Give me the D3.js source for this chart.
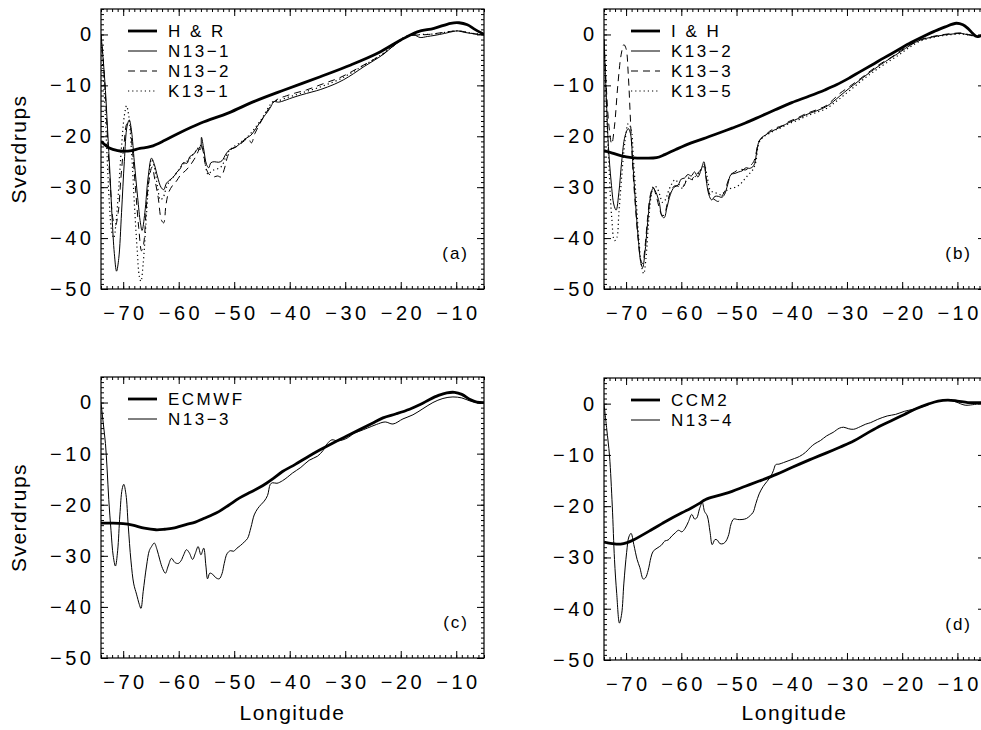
<!DOCTYPE html>
<html><head><meta charset="utf-8">
<script src="https://cdn.jsdelivr.net/npm/d3@7"></script>
<style>
html,body{margin:0;padding:0;background:#fff;}
svg{display:block;}
text{font-family:"Liberation Sans",Arial,sans-serif;fill:#000;}
</style></head><body>
<div id="chart"></div>
<script>
// ---------------- DATA (longitude, Sverdrups) ----------------
const xTicks = [-70,-60,-50,-40,-30,-20,-10];
const yTicks = [0,-10,-20,-30,-40,-50];
const xDomain = [-74,-5];
const yDomain = [-50,5];

// Panel (a)
const HR = [[-74,-21],[-72.5,-22.3],[-71,-22.8],[-70,-22.9],[-68.5,-22.8],[-67,-22.4],[-65,-22.0],[-62.5,-20.8],[-60,-19.4],[-56,-17.4],[-51,-15.4],[-46.5,-13.2],[-41,-10.9],[-34.5,-8.3],[-29,-6.0],[-24,-3.6],[-20,-1.1],[-17,0.5],[-14,1.2],[-11,2.2],[-9.5,2.3],[-8,1.9],[-6.8,1.1],[-5,0]];
const N13_1 = [[-74,0],[-73.6,-5],[-73.2,-11],[-72.8,-19],[-72.4,-27],[-72,-36],[-71.6,-43],[-71.2,-46.5],[-70.8,-44],[-70.3,-35],[-69.8,-25],[-69.3,-18],[-68.9,-16.8],[-68.5,-19],[-68,-25],[-67.4,-32],[-66.9,-37],[-66.6,-38.5],[-66.1,-35],[-65.5,-28],[-64.9,-24.3],[-64.4,-25.5],[-63.8,-28],[-63.2,-30],[-62.7,-30.5],[-62.2,-29.2],[-61.5,-28.5],[-60.8,-27.8],[-60.3,-27],[-59.8,-26.5],[-59.2,-25.2],[-58.5,-25.3],[-58,-24],[-57.3,-23.5],[-56.6,-22.5],[-56.1,-22.6],[-55.9,-20.2],[-55.5,-22.5],[-55,-25.5],[-54.6,-26.2],[-54.2,-25.2],[-53.6,-25],[-52.8,-25.1],[-52.2,-24.8],[-51.5,-23.5],[-50.8,-22.6],[-50,-22.3],[-49,-21.5],[-48,-20.5],[-47,-19.8],[-46.3,-18.8],[-45.5,-17.5],[-44.7,-16.2],[-44,-15.2],[-43.3,-14],[-42.9,-13.2],[-42,-13.3],[-41,-13],[-40,-12.6],[-38,-11.9],[-36,-11.3],[-34.4,-10.8],[-32,-9.8],[-30.3,-8.9],[-28.5,-7.7],[-26.6,-6.3],[-24.8,-5.1],[-23,-3.8],[-21.5,-2.4],[-20,-1.2],[-18.8,-0.4],[-17.6,-0.1],[-16.5,-0.6],[-15.2,-0.4],[-14,-0.2],[-12.1,0.2],[-10.5,0.6],[-9.7,0.7],[-8.5,0.4],[-7.3,0.2],[-6,0],[-5,0]];
const N13_2 = [[-74,0],[-73.6,-5],[-73.2,-12],[-72.8,-21],[-72.3,-30],[-71.8,-36.5],[-71.4,-37.5],[-70.9,-35],[-70.4,-28],[-69.8,-21],[-69.3,-17.5],[-68.9,-17.5],[-68.4,-22],[-67.8,-30],[-67.2,-38],[-66.7,-42.5],[-66.3,-41],[-65.9,-35],[-65.4,-29],[-64.8,-26],[-64.3,-28.5],[-63.7,-32],[-63.1,-36.5],[-62.7,-37],[-62.3,-33.5],[-61.8,-31],[-61,-29.5],[-60.4,-28.8],[-59.6,-27.5],[-58.8,-26.8],[-58,-25.8],[-57.2,-24.5],[-56.5,-23],[-56,-21.5],[-55.6,-23],[-55,-26.5],[-54.4,-27.6],[-53.8,-28],[-53,-27.8],[-52.4,-28],[-51.8,-26.5],[-51.2,-24],[-50.5,-22.5],[-49.5,-22],[-48.5,-21.2],[-47.5,-20.4],[-46.9,-21.3],[-46.3,-19.5],[-45.5,-17.8],[-44.7,-16.2],[-43.8,-14.6],[-43,-13.4],[-42,-12.6],[-41,-12.2],[-39,-11.5],[-37,-10.9],[-35,-10.1],[-33,-9.3],[-31,-8.5],[-29,-7.4],[-27,-6.2],[-25,-5.0],[-23,-3.7],[-21,-2],[-19.5,-0.8],[-18,-0.2],[-16.5,-0.1],[-15,0],[-13,0.3],[-11,0.6],[-9.5,0.7],[-8,0.4],[-6.5,0.1],[-5,0]];
const K13_1 = [[-74,0],[-73.7,-6],[-73.3,-14],[-72.9,-24],[-72.5,-33],[-72.1,-38.5],[-71.7,-40],[-71.3,-37],[-70.8,-30],[-70.3,-22],[-69.8,-16],[-69.4,-14],[-69,-16],[-68.5,-23],[-68,-33],[-67.5,-42],[-67.1,-47.5],[-66.8,-48.5],[-66.4,-45],[-65.9,-37],[-65.4,-29],[-64.9,-24.5],[-64.4,-26],[-63.8,-30],[-63.3,-32.5],[-62.8,-32],[-62.2,-30],[-61.5,-28.6],[-60.8,-27.8],[-60,-26.6],[-59.2,-25.5],[-58.4,-24.8],[-57.6,-23.8],[-56.8,-22.8],[-56.2,-21.8],[-55.8,-22],[-55.3,-25],[-54.7,-27.5],[-54.2,-27],[-53.5,-26.5],[-52.8,-26.3],[-52.2,-25.8],[-51.5,-24],[-50.8,-22.7],[-50,-22],[-49,-21.3],[-48,-20.5],[-47,-19.4],[-46,-18],[-45,-16.5],[-44.2,-15],[-43.5,-13.8],[-42.8,-13],[-42,-13],[-41,-12.6],[-39,-11.9],[-37,-11.2],[-35,-10.5],[-33,-9.7],[-31,-8.8],[-29,-7.6],[-27,-6.3],[-25,-5],[-23,-3.6],[-21,-1.9],[-19.5,-0.6],[-18,-0.1],[-16,0],[-14,0.1],[-12,0.4],[-10,0.7],[-8.5,0.5],[-7,0.2],[-5,0]];

// Panel (b)
const IH = [[-74,-22.8],[-72.5,-23.3],[-71,-23.8],[-69,-24.2],[-66.5,-24.3],[-64.5,-24.2],[-63,-23.6],[-61,-22.6],[-58.2,-21.3],[-55.5,-20.3],[-53.3,-19.4],[-50.8,-18.4],[-48.4,-17.4],[-45.5,-16],[-43,-14.8],[-40,-13.4],[-36.8,-12.1],[-34,-10.9],[-31.9,-9.9],[-29.5,-8.5],[-27.6,-7.3],[-25.5,-6],[-23.3,-4.6],[-21,-3.2],[-18.4,-1.6],[-16.2,-0.4],[-14.2,0.6],[-12.2,1.5],[-10.2,2.2],[-9,1.9],[-8.1,1.2],[-7.2,0.2],[-6.5,-0.4],[-5.8,-0.3],[-5,-0.2]];
const K13_2 = [[-74,-1],[-73.6,-12],[-73.2,-22],[-72.7,-29],[-72.2,-33.5],[-71.8,-34.5],[-71.3,-31],[-70.8,-25],[-70.2,-20],[-69.6,-18.5],[-69.2,-19.5],[-68.8,-25],[-68.3,-33],[-67.8,-40],[-67.3,-45],[-67,-45.8],[-66.6,-43],[-66.1,-37],[-65.6,-32],[-65.1,-30.2],[-64.6,-31],[-64,-33],[-63.5,-35.7],[-63.1,-36],[-62.6,-34],[-62,-31.5],[-61.3,-30],[-60.6,-29.6],[-60,-28.4],[-59.4,-28.2],[-58.8,-27.5],[-58.2,-27.8],[-57.6,-27],[-57,-28],[-56.4,-26.5],[-55.9,-25],[-55.5,-28.5],[-55,-31.5],[-54.5,-32.5],[-53.9,-31.8],[-53.3,-31.8],[-52.7,-32],[-52.2,-31.5],[-51.6,-29.5],[-51,-27.5],[-50.3,-27.3],[-49.6,-27],[-49,-26.8],[-48.3,-26.2],[-47.6,-26.3],[-46.9,-25.8],[-46.4,-23.5],[-46,-21.2],[-45.4,-20.2],[-44.8,-19.8],[-44,-19.2],[-43,-18.7],[-41.7,-18],[-40.5,-17.3],[-39,-16.6],[-37.5,-15.8],[-35.5,-15],[-33.8,-14.2],[-32.5,-13.2],[-31.3,-12.1],[-29.5,-10.5],[-27.6,-8.9],[-25.8,-7.4],[-24,-6],[-22,-4.6],[-20.3,-3.4],[-18.5,-2.1],[-16.7,-1.1],[-14.5,-0.5],[-12.4,-0.1],[-10.8,0.1],[-9.3,0.2],[-8,-0.1],[-6.8,-0.3],[-5,-0.3]];
const K13_3 = [[-74,-1],[-73.6,-10],[-73.1,-18],[-72.6,-21.5],[-72.1,-18],[-71.5,-10],[-70.9,-4],[-70.4,-2],[-70,-2.8],[-69.6,-8],[-69.2,-17],[-68.8,-26],[-68.3,-34],[-67.8,-40.5],[-67.3,-44.5],[-67,-45],[-66.6,-42],[-66.1,-36],[-65.6,-31.5],[-65.1,-30],[-64.6,-31.5],[-64,-34],[-63.5,-35.5],[-63.1,-35.5],[-62.6,-33.5],[-62,-31],[-61.3,-29.8],[-60.6,-29.8],[-60,-30.2],[-59.4,-29.5],[-58.8,-28],[-58.2,-28.5],[-57.6,-27.8],[-57,-27.2],[-56.4,-26.5],[-55.9,-25.5],[-55.5,-28],[-55,-31],[-54.5,-32],[-53.9,-32.5],[-53.3,-32.8],[-52.7,-31.8],[-52.2,-31],[-51.6,-29],[-51,-27.5],[-50.3,-27],[-49.6,-26.5],[-49,-26.5],[-48.3,-26.6],[-47.6,-25.9],[-46.9,-25],[-46.4,-23],[-46,-21],[-45.4,-20.4],[-44.8,-19.8],[-44,-19],[-43,-18.4],[-41.7,-17.9],[-40.5,-17.1],[-39,-16.4],[-37.5,-15.6],[-35.5,-14.8],[-33.8,-14],[-32.5,-12.8],[-31.3,-11.6],[-29.5,-10.2],[-27.6,-8.7],[-25.8,-7.2],[-24,-5.8],[-22,-4.5],[-20.3,-3.2],[-18.5,-2],[-16.7,-1],[-14.5,-0.4],[-12.4,0],[-10.8,0.2],[-9.3,0.3],[-8,0],[-6.8,-0.2],[-5,-0.3]];
const K13_5 = [[-74,-1],[-73.6,-13],[-73.1,-26],[-72.6,-36],[-72.1,-40.5],[-71.7,-40],[-71.3,-35],[-70.8,-28],[-70.2,-21],[-69.6,-17.5],[-69.1,-18.5],[-68.7,-24],[-68.2,-32],[-67.7,-40],[-67.2,-45.5],[-66.8,-47],[-66.4,-44],[-66,-38],[-65.5,-32],[-65,-29.8],[-64.5,-30],[-63.9,-31.5],[-63.4,-33],[-62.9,-32.5],[-62.4,-31],[-61.8,-29.5],[-61.1,-28.5],[-60.4,-29.5],[-59.8,-30.2],[-59.2,-28.8],[-58.6,-28.2],[-58,-28.5],[-57.4,-27.8],[-56.8,-27.2],[-56.2,-26.2],[-55.8,-25.8],[-55.3,-28],[-54.8,-30.5],[-54.2,-31],[-53.5,-31.2],[-52.8,-31.5],[-52.2,-31],[-51.6,-30.5],[-51,-30.2],[-50.2,-30],[-49.4,-29.5],[-48.6,-28.5],[-47.8,-27.5],[-47,-26.5],[-46.5,-25],[-46.1,-22],[-45.6,-20.6],[-45,-20],[-44,-19.4],[-43,-18.8],[-41.7,-18.2],[-40.5,-17.5],[-39,-16.9],[-37.5,-16.1],[-35.5,-15.3],[-33.8,-14.6],[-32.5,-13.6],[-31.3,-12.6],[-29.5,-11],[-27.6,-9.3],[-25.8,-7.8],[-24,-6.4],[-22,-5],[-20.3,-3.8],[-18.5,-2.4],[-16.7,-1.3],[-14.5,-0.6],[-12.4,-0.2],[-10.8,0],[-9.3,0.1],[-8,-0.1],[-6.8,-0.3],[-5,-0.3]];

// Panel (c)
const ECMWF = [[-74,-23.6],[-72,-23.6],[-70,-23.7],[-68.3,-24],[-66.2,-24.6],[-64.1,-24.9],[-62.5,-24.8],[-61,-24.6],[-58.7,-23.9],[-57,-23.4],[-55.7,-22.8],[-54.2,-22.1],[-52.7,-21.3],[-51,-20.1],[-49.1,-18.7],[-47,-17.5],[-44.9,-16.3],[-43,-14.9],[-41.3,-13.5],[-39,-12.1],[-37,-10.8],[-34.6,-9.3],[-32.2,-7.9],[-29.8,-6.6],[-27.4,-5.3],[-25.2,-4.1],[-23.2,-3.0],[-20.8,-2.2],[-18.4,-1.3],[-16.5,-0.4],[-14.8,0.6],[-13.2,1.4],[-11.7,1.9],[-10.3,2.0],[-9,1.6],[-7.5,0.6],[-6.3,0.1],[-5,0]];
const N13_3 = [[-74,0],[-73.6,-4],[-73.2,-8],[-72.9,-13],[-72.6,-19],[-72.2,-25],[-71.8,-30],[-71.4,-32],[-71,-29],[-70.6,-22],[-70.2,-17],[-69.9,-16],[-69.5,-18],[-69.1,-24],[-68.6,-31],[-68.1,-35.5],[-67.6,-37.5],[-67.1,-39.5],[-66.8,-40.3],[-66.4,-37],[-65.8,-32],[-65.3,-29],[-64.9,-28.2],[-64.4,-27.5],[-63.9,-28.8],[-63.4,-30.8],[-62.9,-32.5],[-62.4,-33.4],[-61.9,-32],[-61.3,-30.5],[-60.7,-31.3],[-60.1,-31.5],[-59.6,-31],[-59.1,-29.8],[-58.6,-28.8],[-58.1,-29.4],[-57.5,-30.7],[-57,-29.5],[-56.5,-28.2],[-56,-29.8],[-55.5,-28.5],[-55.1,-32],[-54.8,-34.5],[-54.4,-33.4],[-53.9,-33.6],[-53.3,-34.3],[-52.7,-34.5],[-52.2,-33.5],[-51.8,-31.5],[-51.3,-29.6],[-50.7,-29],[-50.1,-29.1],[-49.5,-28.5],[-48.9,-28],[-48.2,-27.3],[-47.6,-26.6],[-47,-24.5],[-46.4,-22],[-45.8,-20.8],[-45.2,-20],[-44.6,-19.3],[-44,-18.2],[-43.5,-16],[-43.1,-15.7],[-42.3,-15.8],[-41.3,-15.3],[-40.4,-14.6],[-39.5,-13.8],[-38,-12.7],[-36.5,-11.3],[-35,-10.5],[-34,-9.4],[-33.2,-8],[-32.4,-7.3],[-31.4,-7.5],[-30.4,-7.3],[-29.4,-6.8],[-28.4,-6],[-27.4,-5.6],[-26,-5],[-24.4,-4.3],[-22.8,-3.8],[-21.4,-4.2],[-19.6,-3.2],[-17.8,-2.4],[-16,-1.2],[-14.2,0],[-12.4,0.8],[-10.6,1.1],[-9,0.9],[-7.5,0.3],[-6.3,0],[-5,0]];

// Panel (d)
const CCM2 = [[-74,-27],[-72.5,-27.3],[-71,-27.4],[-69.8,-27.1],[-68.5,-26.5],[-67,-25.6],[-65.4,-24.6],[-63.5,-23.4],[-61.7,-22.3],[-59.9,-21.3],[-58.1,-20.3],[-56.8,-19.5],[-55.6,-18.7],[-53.2,-17.9],[-50.8,-17.1],[-48.4,-16.1],[-45.9,-15.1],[-42.8,-13.8],[-40.7,-12.8],[-38.6,-11.8],[-36.2,-10.7],[-33.7,-9.6],[-31.3,-8.5],[-28.8,-7.3],[-26.4,-5.8],[-23.9,-4.3],[-21.7,-3.2],[-19.6,-2.1],[-17.5,-1],[-15.3,-0.1],[-13.5,0.5],[-11.7,0.7],[-10,0.5],[-8.1,0.2],[-6.5,0.2],[-5,0.2]];
const N13_4 = [[-74,0],[-73.5,-5],[-73,-10.2],[-72.5,-20],[-72.1,-30.4],[-71.7,-37],[-71.2,-42.8],[-70.8,-41],[-70.4,-35],[-69.9,-29],[-69.5,-26],[-69.1,-25.3],[-68.6,-27.5],[-68,-30.4],[-67.5,-32],[-66.9,-34.2],[-66.5,-34],[-66,-32.5],[-65.5,-30],[-65.1,-28.8],[-64.4,-28.2],[-63.6,-27.6],[-63,-26.8],[-62.4,-26.6],[-61.7,-25.8],[-61.1,-25.2],[-60.5,-24.7],[-59.9,-25],[-59.3,-24.3],[-58.7,-23],[-58.1,-21.6],[-57.6,-22.5],[-57.2,-22.3],[-56.7,-20.5],[-56.2,-19.3],[-55.8,-21],[-55.3,-21.9],[-54.8,-25],[-54.4,-27.5],[-53.9,-26.5],[-53.5,-26.6],[-53,-27.3],[-52.4,-27.3],[-51.9,-26.8],[-51.4,-25.5],[-51,-23.5],[-50.5,-22.5],[-49.8,-22.6],[-49,-22.6],[-48.2,-22.4],[-47.5,-21.8],[-47,-21.2],[-46.5,-19.5],[-45.9,-17.6],[-45.2,-16.2],[-44.5,-15.2],[-43.8,-14.2],[-43.3,-13],[-42.9,-11.9],[-42.3,-11.8],[-41.5,-11.5],[-40.5,-11.1],[-39.5,-10.7],[-38.6,-10.3],[-37.5,-9.5],[-36.6,-8.5],[-35.8,-7.8],[-34.8,-7.2],[-33.7,-6.3],[-32.5,-5.6],[-31.4,-4.8],[-30.6,-4.6],[-29.7,-4.9],[-28.8,-5],[-27.6,-4.5],[-26.6,-4],[-25.7,-3.7],[-24.5,-3.1],[-22.7,-2.4],[-21.2,-2.1],[-19.6,-1.5],[-18,-1.1],[-16,-0.5],[-14.5,0.2],[-13,0.6],[-11.7,0.8],[-10.2,0.3],[-8.6,-0.3],[-7.2,-0.2],[-5,0.1]];

const legendA = ["H & R","N13\u22121","N13\u22122","K13\u22121"];
const legendB = ["I & H","K13\u22122","K13\u22123","K13\u22125"];
const legendC = ["ECMWF","N13\u22123"];
const legendD = ["CCM2","N13\u22124"];
const panelLabels = ["(a)","(b)","(c)","(d)"];

// ---------------- STYLES ----------------
const styles = {
  thick:{w:2.8,dash:null},
  thin:{w:1,dash:null},
  dash:{w:1,dash:"7,5"},
  dot:{w:1.2,dash:"1.2,3"}
};
const TICK_FS = "20px", TICK_LS = 3.5;

const panels = [
  {x0:101,x1:484,y0:9,y1:289,series:[HR,N13_1,N13_2,K13_1],st:["thick","thin","dash","dot"],legend:legendA,label:panelLabels[0],ytitle:true,xtitle:false},
  {x0:604,x1:985,y0:9,y1:289,series:[IH,K13_2,K13_3,K13_5],st:["thick","thin","dash","dot"],legend:legendB,label:panelLabels[1],ytitle:false,xtitle:false},
  {x0:101,x1:484,y0:377,y1:658,series:[ECMWF,N13_3],st:["thick","thin"],legend:legendC,label:panelLabels[2],ytitle:true,xtitle:true},
  {x0:604,x1:985,y0:378,y1:660,series:[CCM2,N13_4],st:["thick","thin"],legend:legendD,label:panelLabels[3],ytitle:false,xtitle:true}
];

const svg = d3.select("#chart").append("svg").attr("width",981).attr("height",730);
svg.append("rect").attr("width",981).attr("height",730).attr("fill","#fff");

const range = (a,b)=>d3.range(a,b+0.001,1);
const minorX = range(-74,-5);
const minorY = range(-50,5);

panels.forEach((p,i)=>{
  const x = d3.scaleLinear().domain(xDomain).range([p.x0,p.x1]);
  const y = d3.scaleLinear().domain(yDomain).range([p.y1,p.y0]);
  const g = svg.append("g");

  const clipId = "clip"+i;
  svg.append("clipPath").attr("id",clipId).append("rect")
    .attr("x",p.x0).attr("y",p.y0).attr("width",p.x1-p.x0).attr("height",p.y1-p.y0);

  const mk = (axis,tr,sc,vals,size)=>{
    g.append("g").attr("transform",tr)
      .call(axis(sc).tickValues(vals).tickSizeInner(size).tickSizeOuter(0).tickFormat(""))
      .call(s=>s.select(".domain").remove())
      .call(s=>s.selectAll("line").attr("stroke","#000").attr("stroke-width",1));
  };
  mk(d3.axisBottom,`translate(0,${p.y1})`,x,minorX,-3);
  mk(d3.axisTop,`translate(0,${p.y0})`,x,minorX,-3);
  mk(d3.axisLeft,`translate(${p.x0},0)`,y,minorY,-3);
  mk(d3.axisRight,`translate(${p.x1},0)`,y,minorY,-3);
  mk(d3.axisTop,`translate(0,${p.y0})`,x,xTicks,-7);
  mk(d3.axisRight,`translate(${p.x1},0)`,y,yTicks,-7);

  const styleText = s=>s.selectAll("text").attr("fill","#000")
      .style("font-family","'Liberation Sans',Arial,sans-serif")
      .style("font-size",TICK_FS).style("letter-spacing",TICK_LS+"px");

  g.append("g").attr("transform",`translate(0,${p.y1})`)
    .call(d3.axisBottom(x).tickValues(xTicks).tickSizeInner(-7).tickSizeOuter(0).tickPadding(17))
    .call(s=>s.select(".domain").remove())
    .call(s=>s.selectAll("line").attr("stroke","#000"))
    .call(styleText)
    .call(s=>s.selectAll("text").attr("dx",TICK_LS/2));
  g.append("g").attr("transform",`translate(${p.x0},0)`)
    .call(d3.axisLeft(y).tickValues(yTicks).tickSizeInner(-7).tickSizeOuter(0).tickPadding(10))
    .call(s=>s.select(".domain").remove())
    .call(s=>s.selectAll("line").attr("stroke","#000"))
    .call(styleText)
    .call(s=>s.selectAll("text").attr("dx",TICK_LS));

  g.append("rect").attr("x",p.x0).attr("y",p.y0).attr("width",p.x1-p.x0).attr("height",p.y1-p.y0)
    .attr("fill","none").attr("stroke","#000").attr("stroke-width",1.2);

  const line = d3.line().x(d=>x(d[0])).y(d=>y(d[1])).curve(d3.curveCatmullRom.alpha(0.5));
  const cg = g.append("g").attr("clip-path",`url(#${clipId})`);
  p.series.forEach((s,k)=>{
    const st = styles[p.st[k]];
    cg.append("path").datum(s).attr("d",line).attr("fill","none").attr("stroke","#000")
      .attr("stroke-width",st.w).attr("stroke-dasharray",st.dash).attr("stroke-linejoin","round");
  });

  const lg = g.append("g");
  p.legend.forEach((t,k)=>{
    const st = styles[p.st[k]];
    const yy = p.y0 + 22 + k*20;
    lg.append("line").attr("x1",p.x0+27).attr("x2",p.x0+56).attr("y1",yy).attr("y2",yy)
      .attr("stroke","#000").attr("stroke-width",st.w).attr("stroke-dasharray",st.dash);
    lg.append("text").attr("x",p.x0+67).attr("y",yy).attr("dy","0.36em")
      .style("font-size","17px").style("letter-spacing","2.5px").text(t);
  });

  g.append("text").attr("x",p.x0+368).attr("y",p.y1-30).attr("text-anchor","end")
    .style("font-size","17px").style("letter-spacing","2px").text(p.label);

  if(p.ytitle){
    const cy=(p.y0+p.y1)/2;
    g.append("text").attr("transform",`translate(26,${cy}) rotate(-90)`).attr("text-anchor","middle")
      .style("font-size","21px").style("letter-spacing","1.5px").text("Sverdrups");
  }
  if(p.xtitle){
    g.append("text").attr("x",(p.x0+p.x1)/2).attr("y",720).attr("text-anchor","middle")
      .style("font-size","21px").style("letter-spacing","1.5px").text("Longitude");
  }
});
</script></body></html>
